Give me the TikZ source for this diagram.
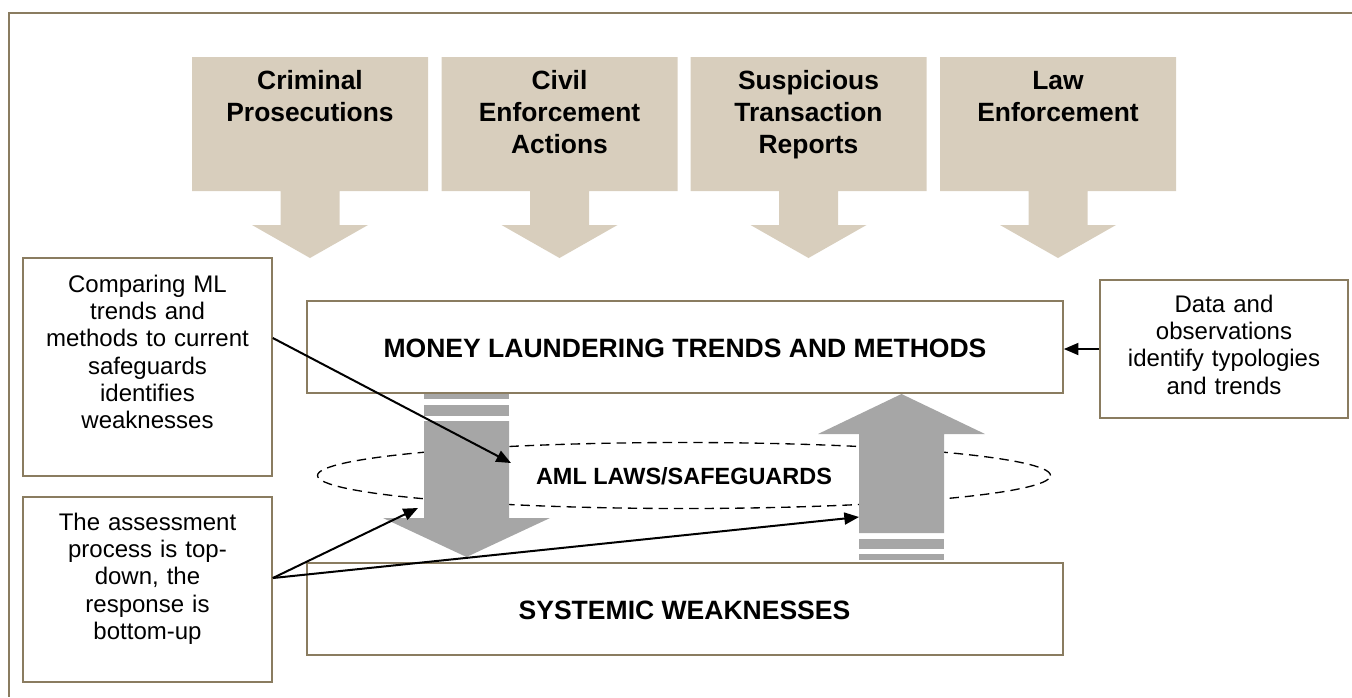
\documentclass[tikz,border=0pt]{standalone}
\usepackage{fontspec}
\setmainfont{Liberation Sans}
\usetikzlibrary{arrows.meta,shapes.geometric}
\definecolor{beige}{RGB}{216,206,189}
\definecolor{grayarrow}{RGB}{166,166,166}
\definecolor{framecol}{RGB}{138,124,96}
\tikzset{
  calltext/.style={anchor=base, inner sep=0pt, text width=172pt, align=center,
    font=\fontsize{19.8pt}{24.2pt}\selectfont\bfseries},
  bigtext/.style={anchor=base, inner sep=0pt, font=\fontsize{19.9pt}{24pt}\selectfont\bfseries},
  smalltext/.style={anchor=base, inner sep=0pt, text width=180pt, align=center,
    font=\fontsize{18pt}{20.5pt}\selectfont},
  boxshape/.style={draw=framecol, line width=1.2pt, fill=white, inner sep=0pt},
  conn/.style={draw=black, line width=1.5pt, -{Triangle[length=11pt,width=9pt]}},
}
\begin{document}
\begin{tikzpicture}[x=0.75pt, y=-0.75pt]
\useasboundingbox (0,0) rectangle (1352,697);
% frame
\draw[framecol, line width=1.6pt] (1352,13) -- (9,13) -- (9,697);
% top callouts
\foreach \cx in {310,559.5,808.5,1058}{
  \fill[beige] ({\cx-118},57) -- ({\cx+118},57) -- ({\cx+118},191) -- ({\cx+29.5},191)
    -- ({\cx+29.5},225) -- ({\cx+58},225) -- (\cx,258) -- ({\cx-58},225)
    -- ({\cx-29.5},225) -- ({\cx-29.5},191) -- ({\cx-118},191) -- cycle;
}
\node[calltext] (cr) at (310,89) {Criminal\\Prosecutions};
\node[calltext] (cv) at (559.5,89) {Civil\\Enforcement\\Actions};
\node[calltext] (st) at (808.5,89) {Suspicious\\Transaction\\Reports};
\node[calltext] (le) at (1058,89) {Law\\Enforcement};
% ellipse
\node[draw=black, dashed, dash pattern=on 7pt off 4.5pt, line width=1pt, ellipse,
  minimum width=549.75pt, minimum height=49.5pt, inner sep=0pt, text depth=0pt,
  font=\fontsize{17.6pt}{21pt}\selectfont\bfseries] (aml) at (684,475.5) {AML LAWS/SAFEGUARDS};
% gray arrows
\fill[grayarrow] (424,394) rectangle (509,399);
\fill[grayarrow] (424,405) rectangle (509,416);
\fill[grayarrow] (424,421) -- (509,421) -- (509,518) -- (550,518) -- (466.5,557)
  -- (383,518) -- (424,518) -- cycle;
\fill[grayarrow] (859,533) -- (859,434) -- (818,434) -- (901.5,394) -- (985,434)
  -- (944,434) -- (944,533) -- cycle;
\fill[grayarrow] (859,539) rectangle (944,549);
\fill[grayarrow] (859,554) rectangle (944,560);
% boxes
\node[boxshape, minimum width=567pt, minimum height=69pt] (mlt) at (685,347) {};
\node[bigtext] (mltt) at (685,357) {MONEY LAUNDERING TRENDS AND METHODS};
\node[boxshape, minimum width=567pt, minimum height=69pt] (sys) at (685,609) {};
\node[bigtext] (syst) at (684.5,619) {SYSTEMIC WEAKNESSES};
\node[boxshape, minimum width=186.75pt, minimum height=163.5pt] (cmp) at (147.5,367) {};
\node[smalltext] (cmpt) at (147.5,292) {Comparing ML\\trends and\\methods to current\\safeguards\\identifies\\weaknesses};
\node[boxshape, minimum width=186.75pt, minimum height=138.75pt] (asm) at (147.5,589.5) {};
\node[smalltext] (asmt) at (147.5,530) {The assessment\\process is top-\\down, the\\response is\\bottom-up};
\node[boxshape, minimum width=186pt, minimum height=103.5pt] (data) at (1224,349) {};
\node[smalltext] (datat) at (1224,312) {Data and\\observations\\identify typologies\\and trends};
% connectors
\coordinate (c1) at (511,463);
\coordinate (c2) at (418,508);
\coordinate (c3) at (859,517);
\draw[conn] ([yshift=21.75pt]cmp.east) -- (c1);
\draw[conn] ([yshift=8.6pt]asm.east) -- (c2);
\draw[conn] ([yshift=8.6pt]asm.east) -- (c3);
\draw[conn] (data.west) -- (data.west -| mlt.east);
\end{tikzpicture}
\end{document}
